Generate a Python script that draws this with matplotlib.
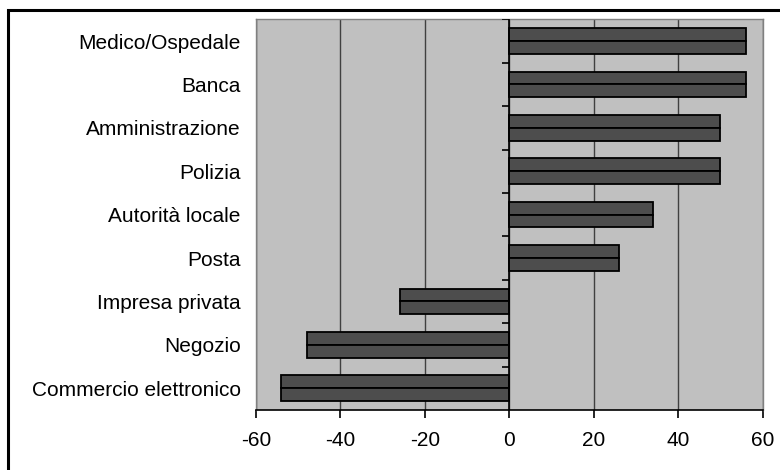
import numpy as np
import matplotlib.pyplot as plt
from matplotlib.patches import Rectangle

# categories, top to bottom
categorie = ["Medico/Ospedale", "Banca", "Amministrazione", "Polizia",
             "Autorità locale", "Posta", "Impresa privata", "Negozio",
             "Commercio elettronico"]
# two series per category
serie_a = [56, 56, 50, 50, 34, 26, -26, -48, -54]
serie_b = [56, 56, 50, 50, 34, 26, -26, -48, -54]
x_ticks = [-60, -40, -20, 0, 20, 40, 60]

plt.rcParams['font.family'] = ['Liberation Sans', 'DejaVu Sans']

fig = plt.figure(figsize=(7.8, 4.7), dpi=100)
ax = fig.add_axes([0.3282, 0.1277, 0.6496, 0.8312])
ax.set_facecolor('#C0C0C0')

y = np.arange(len(categorie))
h = 0.296
ax.barh(y - h, serie_a, height=h, align='edge', color='#4D4D4D',
        edgecolor='black', linewidth=1.3, zorder=3)
ax.barh(y, serie_b, height=h, align='edge', color='#4D4D4D',
        edgecolor='black', linewidth=1.3, zorder=3)

ax.set_xlim(-60, 60)
ax.set_ylim(len(categorie) - 0.5, -0.5)

# vertical grid lines and zero axis
ax.set_xticks(x_ticks)
ax.set_xticklabels([str(v) for v in x_ticks])
ax.grid(axis='x', color='#404040', linewidth=1.0, zorder=1)
ax.set_axisbelow(True)
ax.axvline(0, color='black', linewidth=1.2, zorder=4)
# tick marks on the zero axis between categories
ax.hlines(np.arange(len(categorie)) - 0.5, -1.65, 0, color='black',
          linewidth=1.2, zorder=4)

ax.set_yticks(y)
ax.set_yticklabels(categorie)
ax.tick_params(axis='y', length=0, pad=11, labelsize=15)
ax.tick_params(axis='x', direction='out', length=6, width=1.2,
               color='black', pad=9, labelsize=15)

for s in ['left', 'top', 'right']:
    ax.spines[s].set_color('#808080')
    ax.spines[s].set_linewidth(1.0)
ax.spines['bottom'].set_color('black')
ax.spines['bottom'].set_linewidth(1.2)

# outer frame
fig.patches.append(Rectangle((7.5 / 780, -0.05), 1.1, 1 - 9.5 / 470 + 0.05,
                             transform=fig.transFigure, fill=False,
                             edgecolor='black', linewidth=2.2))

fig.savefig('out.png', dpi=100)
